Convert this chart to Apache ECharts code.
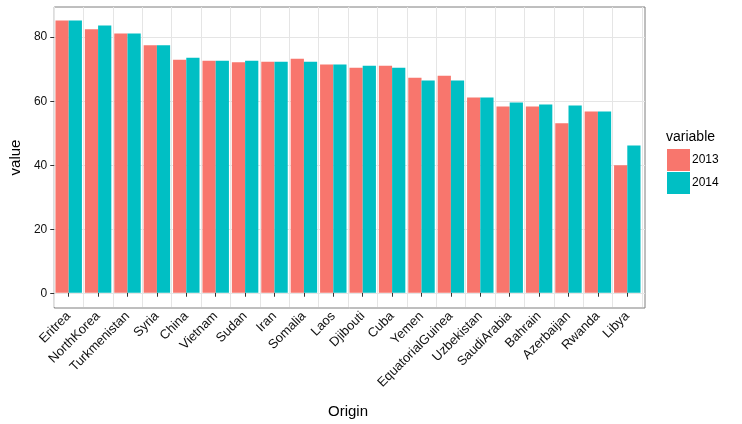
<!DOCTYPE html>
<html>
<head>
<meta charset="utf-8">
<script src="https://cdn.jsdelivr.net/npm/echarts@6/dist/echarts.min.js"></script>
<style>
  html, body { margin: 0; padding: 0; background: #fff; }
  #chart { width: 742px; height: 424px; }
</style>
</head>
<body>
<div id="chart"></div>
<script>
// data
const origins = ['Eritrea', 'NorthKorea', 'Turkmenistan', 'Syria', 'China', 'Vietnam', 'Sudan', 'Iran',
  'Somalia', 'Laos', 'Djibouti', 'Cuba', 'Yemen', 'EquatorialGuinea', 'Uzbekistan', 'SaudiArabia',
  'Bahrain', 'Azerbaijan', 'Rwanda', 'Libya']
const values2013 = [85.2, 82.4, 81.1, 77.4, 72.9, 72.6, 72.1, 72.3, 73.2, 71.4, 70.4, 71.0, 67.3, 67.9,
  61.1, 58.3, 58.3, 53.0, 56.7, 39.9]
const values2014 = [85.2, 83.6, 81.1, 77.4, 73.5, 72.6, 72.6, 72.3, 72.3, 71.4, 71.0, 70.4, 66.4, 66.4,
  61.1, 59.5, 58.9, 58.6, 56.7, 46.1]
const yTicks = [0, 20, 40, 60, 80]

const font = 'Liberation Sans, Arial, sans-serif'
const yMin = -4.46
const yMax = 89.4

const chart = echarts.init(document.getElementById('chart'))

chart.setOption({
  animation: false,
  textStyle: { fontFamily: font },
  grid: [
    // panel frame + y axis
    { left: 51, right: 97, top: 7, bottom: 116, show: true, borderColor: '#7f7f7f', borderWidth: 1, backgroundColor: '#fff' },
    // bars (ggplot's 0.6 category padding on both sides)
    { left: 54, right: 100, top: 7, bottom: 116 },
  ],
  title: {
    text: 'variable',
    left: 661,
    top: 125,
    textStyle: { fontFamily: font, fontSize: 14, fontWeight: 'normal', color: '#000' },
  },
  legend: {
    orient: 'vertical',
    left: 662,
    top: 144,
    itemWidth: 23,
    itemHeight: 22,
    itemGap: 1,
    icon: 'rect',
    textStyle: { fontFamily: font, fontSize: 12, color: '#000', padding: [0, 0, 0, -3] },
    data: ['2013', '2014'],
  },
  xAxis: [
    { type: 'value', gridIndex: 0, show: false, min: 0, max: 1 },
    {
      type: 'category',
      gridIndex: 1,
      data: origins,
      axisLine: { show: false },
      axisTick: { show: true, alignWithLabel: true, length: 4, lineStyle: { color: '#333' } },
      axisLabel: {
        rotate: 45,
        interval: 0,
        margin: 7,
        fontFamily: font,
        fontSize: 13,
        color: '#111',
      },
      splitLine: { show: true, lineStyle: { color: '#e5e5e5' } },
      name: 'Origin',
      nameLocation: 'middle',
      nameGap: 97,
      nameTextStyle: { fontFamily: font, fontSize: 15, color: '#000' },
    },
  ],
  yAxis: [
    {
      type: 'value',
      gridIndex: 0,
      min: yMin,
      max: yMax,
      axisLine: { show: false },
      axisTick: { show: true, length: 4, customValues: yTicks, lineStyle: { color: '#333' } },
      axisLabel: { customValues: yTicks, fontFamily: font, fontSize: 12, color: '#111', margin: 7 },
      splitLine: { show: true, lineStyle: { color: '#e5e5e5' } },
      name: 'value',
      nameLocation: 'middle',
      nameGap: 27,
      nameTextStyle: { fontFamily: font, fontSize: 15, color: '#000' },
    },
    { type: 'value', gridIndex: 1, min: yMin, max: yMax, show: false, splitLine: { show: false } },
  ],
  series: [
    {
      name: '2013',
      type: 'bar',
      xAxisIndex: 1,
      yAxisIndex: 1,
      data: values2013,
      barGap: '0%',
      barCategoryGap: '10%',
      itemStyle: { color: '#F8766D' },
    },
    {
      name: '2014',
      type: 'bar',
      xAxisIndex: 1,
      yAxisIndex: 1,
      data: values2014,
      barGap: '0%',
      barCategoryGap: '10%',
      itemStyle: { color: '#00BFC4' },
    },
  ],
})
</script>
</body>
</html>
